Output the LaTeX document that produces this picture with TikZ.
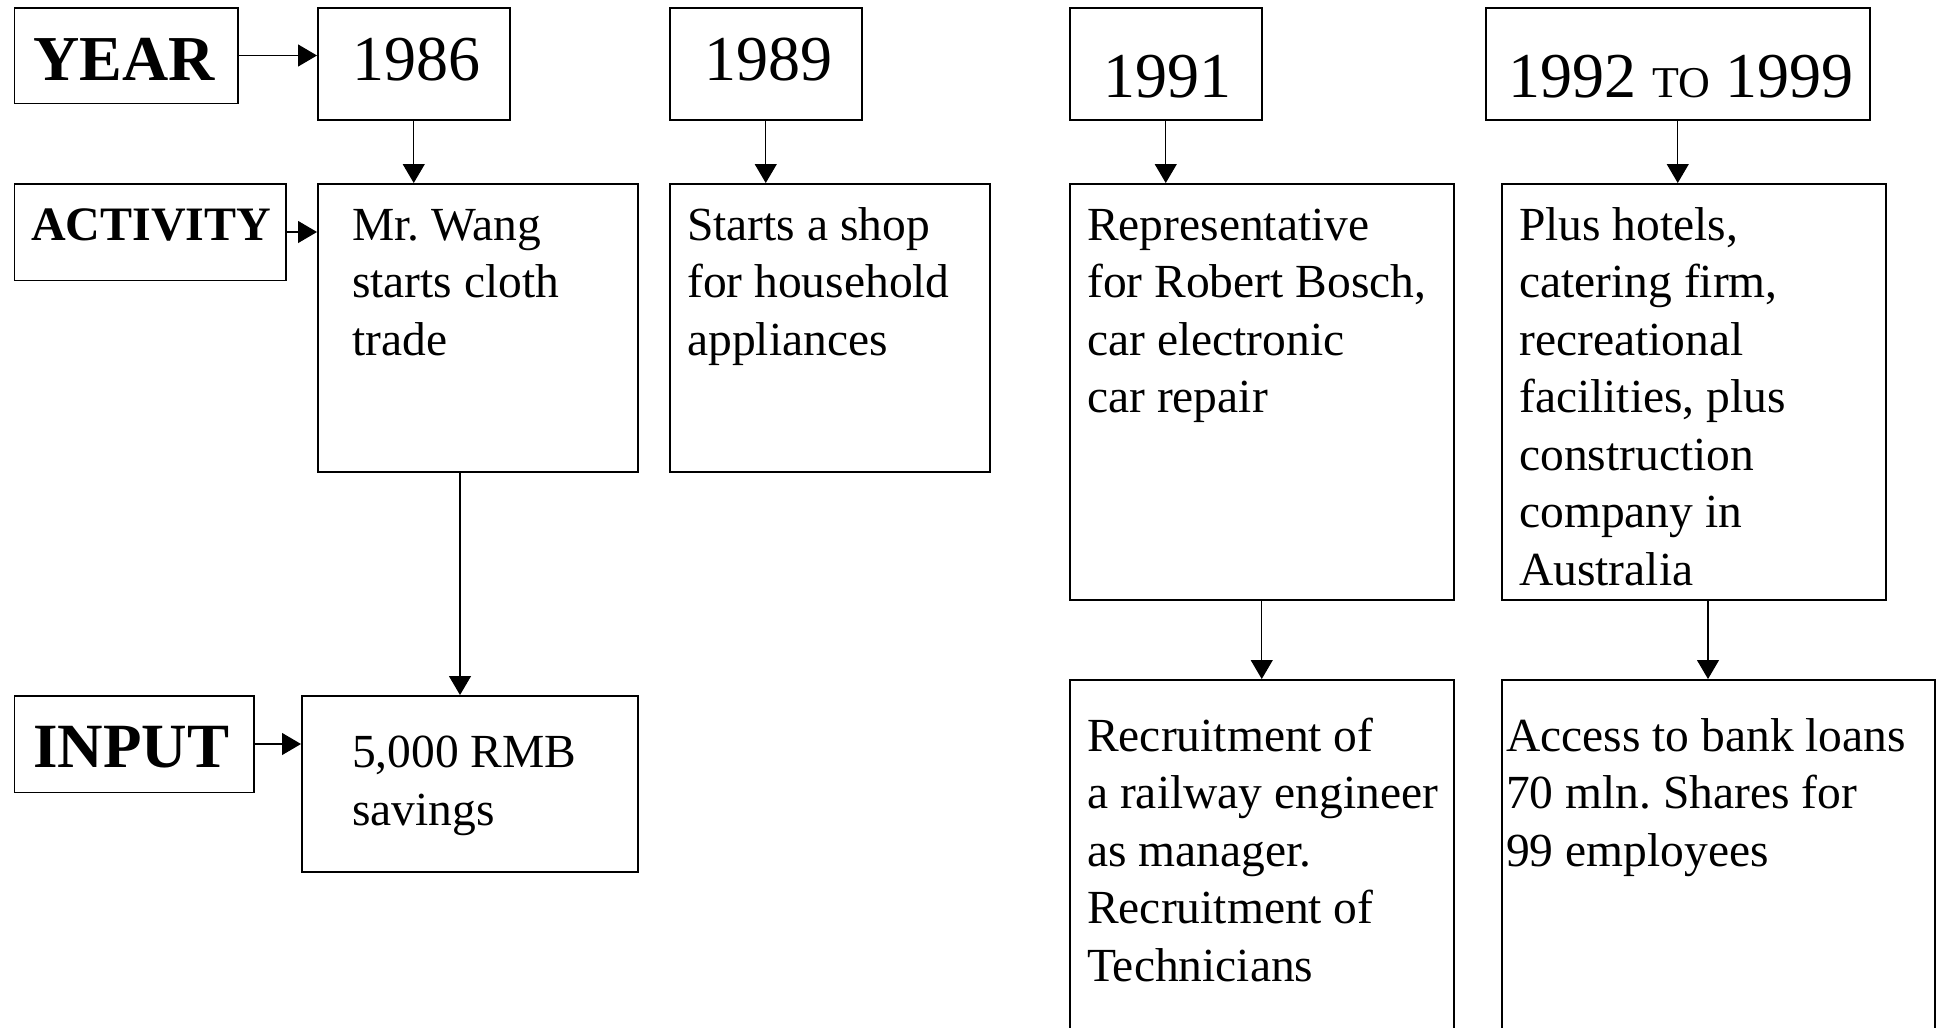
\documentclass[tikz,border=0pt]{standalone}
\usepackage{fontspec}
\setmainfont{Liberation Serif}
\usetikzlibrary{arrows.meta}
\newcommand\mlines[1]{\vtop{\halign{##\hfil\cr#1\crcr}}}
\frenchspacing
\begin{document}
\begin{tikzpicture}[x=1pt,y=-1pt,
  box/.style={draw,line width=1.5pt,rectangle,inner sep=0pt,anchor=north west},
  txt/.style={anchor=base west,inner sep=0pt},
  ctxt/.style={anchor=base,inner sep=0pt},
  arr/.style={line width=1.2pt,-{Triangle[length=19pt,width=22pt]}},
  big/.style={font=\fontsize{64}{70}\selectfont},
  mid/.style={font=\fontsize{47.5}{57.5}\selectfont}]
\useasboundingbox (0,0) rectangle (1936,1028);
\clip (0,0) rectangle (1936,1028);
\fill[white] (0,0) rectangle (1936,1028);
% boxes
\node[box,minimum width=223.4pt,minimum height=95.5pt] (year) at (13.6,7) {};
\node[box,minimum width=192pt,minimum height=112pt] (y1986) at (317,7) {};
\node[box,minimum width=192pt,minimum height=112pt] (y1989) at (669,7) {};
\node[box,minimum width=192pt,minimum height=112pt] (y1991) at (1069,7) {};
\node[box,minimum width=384pt,minimum height=112pt] (y1992) at (1485,7) {};
\node[box,minimum width=271.4pt,minimum height=96.5pt] (act) at (13.6,183) {};
\node[box,minimum width=320pt,minimum height=288pt] (a1986) at (317,183) {};
\node[box,minimum width=320pt,minimum height=288pt] (a1989) at (669,183) {};
\node[box,minimum width=384pt,minimum height=416pt] (a1991) at (1069,183) {};
\node[box,minimum width=384pt,minimum height=416pt] (a1992) at (1501,183) {};
\node[box,minimum width=239.4pt,minimum height=96.5pt] (inp) at (13.6,695) {};
\node[box,minimum width=336pt,minimum height=176pt] (i1986) at (301,695) {};
\node[box,minimum width=384pt,minimum height=370pt] (i1991) at (1069,679) {};
\node[box,minimum width=433pt,minimum height=370pt] (i1992) at (1501,679) {};
% texts
\node[txt,font=\fontsize{64}{70}\selectfont\bfseries] (tyear) at (33,80) {YEAR};
\node[ctxt,big] (t1986) at (416,80) {1986};
\node[ctxt,big] (t1989) at (768,80) {1989};
\node[ctxt,big] (t1991) at (1167,97) {1991};
\node[ctxt,big] (t1992) at (1681,97) {1992 {\fontsize{44}{50}\selectfont TO} 1999};
\node[txt,font=\fontsize{48}{55}\selectfont\bfseries] (tact) at (31,240) {ACTIVITY};
\node[txt,mid] (ta1986) at (352,240) {\mlines{Mr. Wang\cr starts cloth\cr trade}};
\node[txt,mid] (ta1989) at (687,240) {\mlines{Starts a shop\cr for household\cr appliances}};
\node[txt,mid] (ta1991) at (1087,240) {\mlines{Representative\cr for Robert Bosch,\cr car electronic\cr car repair}};
\node[txt,mid] (ta1992) at (1519,240) {\mlines{Plus hotels,\cr catering firm,\cr recreational\cr facilities, plus\cr construction\cr company in\cr Australia}};
\node[txt,font=\fontsize{63}{70}\selectfont\bfseries] (tinp) at (33,767) {INPUT};
\node[txt,font=\fontsize{47.5}{58.5}\selectfont] (ti1986) at (352,767) {\mlines{5,000 RMB\cr savings}};
\node[txt,mid] (ti1991) at (1087,751) {\mlines{Recruitment of\cr a railway engineer\cr as manager.\cr Recruitment of\cr Technicians}};
\node[txt,mid] (ti1992) at (1506,751) {\mlines{Access to bank loans\cr 70 mln. Shares for\cr 99 employees}};
% connectors
\draw[arr] (year.east) -- (year.east -| y1986.west);
\draw[arr] (y1986.south) -- (y1986.south |- a1986.north);
\draw[arr] (y1989.south) -- (y1989.south |- a1989.north);
\draw[arr] (y1991.south) -- (y1991.south |- a1991.north);
\draw[arr] (y1992.south) -- (y1992.south |- a1992.north);
\draw[arr] (act.east) -- (act.east -| a1986.west);
\draw[arr] (inp.east) -- (inp.east -| i1986.west);
\coordinate (c1) at (460,471);
\draw[arr] (c1) -- (c1 |- i1986.north);
\draw[arr] (a1991.south) -- (a1991.south |- i1991.north);
\coordinate (c2) at (1708,599);
\draw[arr] (c2) -- (c2 |- i1992.north);
\end{tikzpicture}
\end{document}
